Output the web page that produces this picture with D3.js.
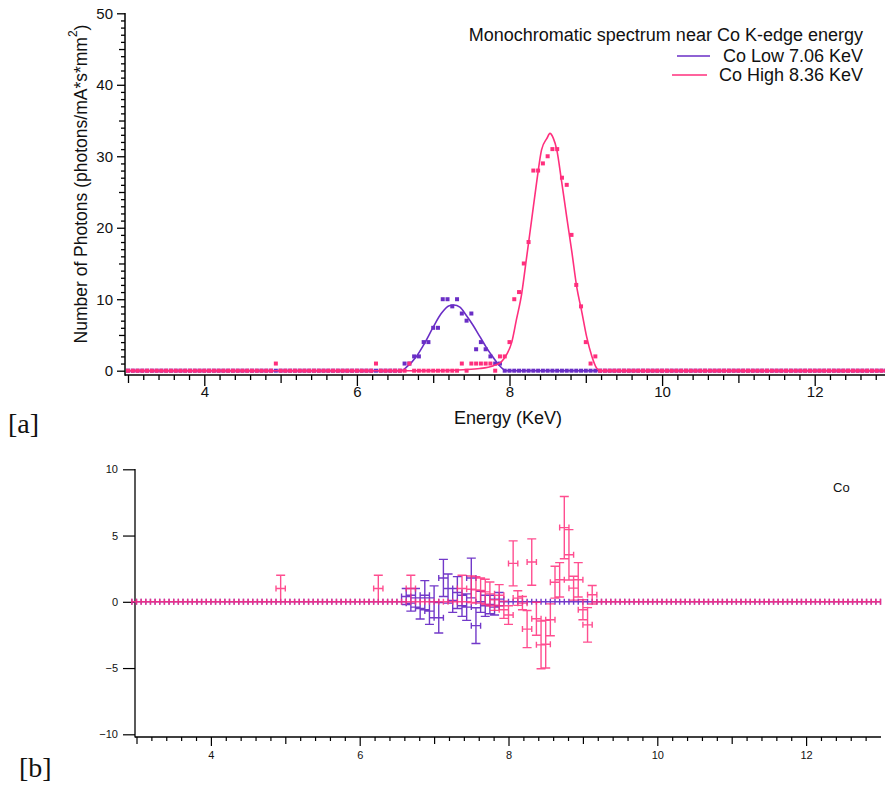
<!DOCTYPE html>
<html>
<head>
<meta charset="utf-8">
<script src="https://cdn.jsdelivr.net/npm/d3@7"></script>
<style>
body { margin: 0; background: #fff; }
svg { display: block; font-family: "Liberation Sans", Arial, sans-serif; }
</style>
</head>
<body>
<svg id="chart" width="885" height="789"></svg>
<script>
// energy bins: 3.0 keV upward in 1/16 keV steps
const binStart = 3;
const binWidth = 0.0625;

// measured counts per bin, one row = 1 keV (16 bins)
const coLowCounts = [
    0, 0, 0, 0, 0, 0, 0, 0, 0, 0, 0, 0, 0, 0, 0, 0,
    0, 0, 0, 0, 0, 0, 0, 0, 0, 0, 0, 0, 0, 0, 0, 0,
    0, 0, 0, 0, 0, 0, 0, 0, 0, 0, 0, 0, 0, 0, 0, 0,
    0, 0, 0, 0, 0, 0, 0, 0, 0, 0, 1, 1, 2, 2, 4, 4,
    6, 6, 10, 10, 9, 10, 8, 7, 8, 3, 4, 3, 2, 1, 1, 0,
    0, 0, 0, 0, 0, 0, 0, 0, 0, 0, 0, 0, 0, 0, 0, 0,
    0, 0, 0, 0, 0, 0, 0, 0, 0, 0, 0, 0, 0, 0, 0, 0,
    0, 0, 0, 0, 0, 0, 0, 0, 0, 0, 0, 0, 0, 0, 0, 0,
    0, 0, 0, 0, 0, 0, 0, 0, 0, 0, 0, 0, 0, 0, 0, 0,
    0, 0, 0, 0, 0, 0, 0, 0, 0, 0, 0, 0, 0, 0, 0, 0
];
const coHighCounts = [
    0, 0, 0, 0, 0, 0, 0, 0, 0, 0, 0, 0, 0, 0, 0, 0,
    0, 0, 0, 0, 0, 0, 0, 0, 0, 0, 0, 0, 0, 0, 0, 1,
    0, 0, 0, 0, 0, 0, 0, 0, 0, 0, 0, 0, 0, 0, 0, 0,
    0, 0, 0, 0, 1, 0, 0, 0, 0, 0, 0, 1, 0, 0, 0, 0,
    0, 0, 0, 0, 0, 0, 1, 0, 1, 1, 1, 1, 1, 0, 2, 2,
    4, 10, 11, 15, 18, 28, 28, 29, 30, 31, 31, 27, 26, 19, 12, 9,
    4, 1, 2, 0, 0, 0, 0, 0, 0, 0, 0, 0, 0, 0, 0, 0,
    0, 0, 0, 0, 0, 0, 0, 0, 0, 0, 0, 0, 0, 0, 0, 0,
    0, 0, 0, 0, 0, 0, 0, 0, 0, 0, 0, 0, 0, 0, 0, 0,
    0, 0, 0, 0, 0, 0, 0, 0, 0, 0, 0, 0, 0, 0, 0, 0
];

// fitted curves (keV, photons)
const coLowFitE = [3, 6.58, 6.65, 6.78, 6.89, 7.0, 7.105, 7.21, 7.27, 7.35, 7.43, 7.52, 7.61, 7.70, 7.79, 7.87, 7.96, 13];
const coLowFitV = [0, 0, 0.5, 2.0, 3.9, 6.1, 8.0, 9.1, 9.2, 8.9, 7.8, 6.4, 4.8, 3.2, 1.8, 0.7, 0, 0];
const coHighFitE = [3, 6.97, 7.39, 7.61, 7.79, 7.89, 7.96, 8.03, 8.09, 8.16, 8.22, 8.29, 8.36, 8.42, 8.49, 8.53,
    8.575, 8.62, 8.68, 8.75, 8.82, 8.88, 8.95, 9.01, 9.08, 9.14, 9.19, 13];
const coHighFitV = [0, 0, 0.14, 0.3, 0.7, 1.2, 2.2, 4.0, 7.1, 10.8, 15.5, 21.1, 26.7, 30.9, 32.5, 33.2,
    32.5, 30.9, 26.7, 21.5, 16.4, 11.8, 8.1, 4.8, 2.0, 0.4, 0, 0];

// residuals (bins not listed are 0 with no y error)
const coLowResidBins = [58, 59, 60, 61, 62, 63, 64, 65, 66, 67, 68, 69, 70, 71, 72, 73, 74, 75, 76, 77, 78];
const coLowResid = [0.4, -0.1, 0.3, -0.5, 0.5, -0.7, 0.0, -1.2, 1.8, 1.0, 0.1, 0.7, -0.3, -0.4, 1.8, -1.8, 0.0, -0.3, -0.2, -0.4, 0.2];
const coLowResidErr = [0.6, 0.6, 0.7, 0.8, 1.1, 1.0, 1.2, 1.15, 1.4, 1.1, 0.9, 1.2, 0.8, 1.0, 1.5, 1.35, 0.8, 0.8, 0.7, 0.6, 0.5];
const coHighResidBins = [31, 52, 59, 70, 72, 73, 74, 75, 76, 77, 78, 79, 80, 81, 82, 83, 84, 85, 86, 87, 88, 89, 90, 91, 92, 93, 94, 95, 96, 97, 98];
const coHighResid = [1, 1, 1, 1.0, 0.95, 0.9, 0.85, 0.75, 0.6, -0.25, 0.5, -0.6, -1.0, 2.9, 0.28, -0.1, -2.06, 3.0, -1.28, -3.25, -3.2, -1.36, 1.48, 1.66, 5.6, 3.55, 1.03, 1.66, -0.6, -1.74, 0.53];
const coHighResidErr = [1, 1, 1, 1, 1, 1, 0.95, 0.95, 0.9, 0.4, 0.8, 0.65, 0.7, 1.7, 0.55, 0.5, 1.4, 1.75, 1.25, 1.8, 1.8, 1.2, 1.2, 1.3, 2.35, 1.9, 0.9, 1.3, 0.75, 1.3, 0.7];

const xTicks = d3.range(15, 66).map(k => k / 5);

const PURPLE = '#6a2ec6';
const PINK = '#ff2f7d';

const svg = d3.select('#chart');
const energies = coLowCounts.map((_, i) => binStart + i * binWidth);

// ---------- panel a ----------
const xTop = d3.scaleLinear().domain([3, 13]).range([128, 891]);
const yTop = d3.scaleLinear().domain([0, 50]).range([370.7, 13.3]);
const panelA = svg.append('g');

function tickKind(d) {
    const k = Math.round(d * 5);
    if (k % 10 === 0) return 'even';
    if (k % 5 === 0) return 'odd';
    return 'minor';
}

const xAxisTop = panelA.append('g')
    .attr('transform', 'translate(0,375)')
    .call(d3.axisBottom(xTop).tickValues(xTicks).tickSize(5)
        .tickFormat(d => tickKind(d) === 'even' ? d3.format('d')(d) : ''));
xAxisTop.select('.domain').remove();
xAxisTop.selectAll('.tick line')
    .attr('y2', d => ({even: 11, odd: 8, minor: 5})[tickKind(d)])
    .attr('stroke-width', 1.3);
xAxisTop.selectAll('.tick text').attr('y', 11).attr('font-size', 15).attr('fill', '#111');
panelA.append('line').attr('x1', 125).attr('x2', 885).attr('y1', 375).attr('y2', 375)
    .attr('stroke', '#000').attr('stroke-width', 1.5);

const yAxisTop = panelA.append('g')
    .attr('transform', 'translate(125,0)')
    .call(d3.axisLeft(yTop).tickValues(d3.range(0, 51)).tickSize(4)
        .tickFormat(d => d % 10 === 0 ? d : ''));
yAxisTop.select('.domain').remove();
yAxisTop.selectAll('.tick line')
    .attr('x2', d => d % 10 === 0 ? -8 : (d % 5 === 0 ? -6 : -4))
    .attr('stroke-width', 1.3);
yAxisTop.selectAll('.tick text').attr('x', -12).attr('font-size', 15).attr('fill', '#111');
panelA.append('line').attr('x1', 125).attr('x2', 125).attr('y1', 13).attr('y2', 375.7)
    .attr('stroke', '#000').attr('stroke-width', 1.5);

// axis titles
panelA.append('text')
    .attr('x', 508).attr('y', 424)
    .attr('text-anchor', 'middle').attr('font-size', 18).attr('fill', '#111')
    .text('Energy (KeV)');
const yTitle = panelA.append('text')
    .attr('transform', 'translate(87,184) rotate(-90)')
    .attr('text-anchor', 'middle').attr('font-size', 17.5).attr('fill', '#111');
yTitle.append('tspan').text('Number of Photons (photons/mA*s*mm');
yTitle.append('tspan').attr('dy', -10).attr('font-size', 12).text('2');
yTitle.append('tspan').attr('dy', 10).text(')');

// fits and points
const line = d3.line().x(d => xTop(d[0])).y(d => yTop(d[1])).curve(d3.curveMonotoneX);
function drawSeries(counts, fitE, fitV, color) {
    panelA.append('path')
        .datum(fitE.map((e, i) => [e, fitV[i]]))
        .attr('d', line)
        .attr('fill', 'none').attr('stroke', color).attr('stroke-width', 1.6);
    panelA.append('g').selectAll('rect')
        .data(counts)
        .join('rect')
        .attr('x', (d, i) => xTop(energies[i]) - 2)
        .attr('y', d => yTop(d) - 2)
        .attr('width', 4).attr('height', 4)
        .attr('fill', color);
}
drawSeries(coLowCounts, coLowFitE, coLowFitV, PURPLE);
drawSeries(coHighCounts, coHighFitE, coHighFitV, PINK);

// legend
const legend = panelA.append('g').attr('font-size', 18).attr('fill', '#111').attr('text-anchor', 'end');
legend.append('text').attr('x', 863).attr('y', 41).text('Monochromatic spectrum near Co K-edge energy');
legend.append('text').attr('x', 863).attr('y', 62).text('Co Low 7.06 KeV');
legend.append('text').attr('x', 863).attr('y', 81).text('Co High 8.36 KeV');
legend.append('line').attr('x1', 677).attr('x2', 710).attr('y1', 56).attr('y2', 56)
    .attr('stroke', PURPLE).attr('stroke-width', 1.6);
legend.append('line').attr('x1', 672).attr('x2', 707).attr('y1', 75).attr('y2', 75)
    .attr('stroke', PINK).attr('stroke-width', 1.6);

svg.append('text').attr('x', 8).attr('y', 433)
    .attr('font-family', '"Liberation Serif", "DejaVu Serif", serif')
    .attr('font-size', 28).attr('fill', '#111').text('[a]');

// ---------- panel b ----------
const xBot = d3.scaleLinear().domain([3, 13]).range([136.5, 880.5]);
const yBot = d3.scaleLinear().domain([-10, 10]).range([734.3, 469.3]);
const panelB = svg.append('g');

const xAxisBot = panelB.append('g')
    .attr('transform', 'translate(0,737)')
    .call(d3.axisBottom(xBot).tickValues(xTicks.filter(d => d <= 12.97)).tickSize(4)
        .tickFormat(d => tickKind(d) === 'even' ? d3.format('d')(d) : ''));
xAxisBot.select('.domain').remove();
xAxisBot.selectAll('.tick line')
    .attr('y2', d => ({even: 9, odd: 7, minor: 4})[tickKind(d)])
    .attr('stroke-width', 1.2);
xAxisBot.selectAll('.tick text').attr('y', 14).attr('font-size', 11).attr('fill', '#111');
panelB.append('line').attr('x1', 135).attr('x2', 881).attr('y1', 737).attr('y2', 737)
    .attr('stroke', '#000').attr('stroke-width', 1.3);

const yAxisBot = panelB.append('g')
    .attr('transform', 'translate(135,0)')
    .call(d3.axisLeft(yBot).tickValues([-10, -5, 0, 5, 10]).tickSize(12).tickPadding(5));
yAxisBot.select('.domain').remove();
yAxisBot.selectAll('.tick line').attr('stroke-width', 1.2);
yAxisBot.selectAll('.tick text').attr('font-size', 11).attr('fill', '#111');
panelB.append('line').attr('x1', 135).attr('x2', 135).attr('y1', 469).attr('y2', 737.6)
    .attr('stroke', '#000').attr('stroke-width', 1.3);

function drawResiduals(bins, vals, errs, color, opacity) {
    const pts = energies.map(e => ({e, v: 0, err: 0}));
    bins.forEach((b, k) => { pts[b].v = vals[k]; pts[b].err = errs[k]; });
    const path = d3.path();
    pts.forEach(p => {
        const x = xBot(p.e), y = yBot(p.v);
        const dx = xBot(p.e + binWidth) - x;
        const y1 = yBot(p.v + p.err), y2 = yBot(p.v - p.err);
        path.moveTo(x - dx, y); path.lineTo(x + dx, y);
        path.moveTo(x - dx, y - 3); path.lineTo(x - dx, y + 3);
        path.moveTo(x + dx, y - 3); path.lineTo(x + dx, y + 3);
        path.moveTo(x, y1); path.lineTo(x, y2);
        path.moveTo(x - 4.5, y1); path.lineTo(x + 4.5, y1);
        path.moveTo(x - 4.5, y2); path.lineTo(x + 4.5, y2);
    });
    panelB.append('path')
        .attr('d', path.toString())
        .attr('fill', 'none').attr('stroke', color)
        .attr('stroke-width', 1.4).attr('stroke-opacity', opacity);
}
drawResiduals(coLowResidBins, coLowResid, coLowResidErr, PURPLE, 0.95);
drawResiduals(coHighResidBins, coHighResid, coHighResidErr, PINK, 0.85);

panelB.append('text').attr('x', 833).attr('y', 492)
    .attr('font-size', 13).attr('fill', '#111').text('Co');

svg.append('text').attr('x', 19).attr('y', 777)
    .attr('font-family', '"Liberation Serif", "DejaVu Serif", serif')
    .attr('font-size', 28).attr('fill', '#111').text('[b]');
</script>
</body>
</html>
